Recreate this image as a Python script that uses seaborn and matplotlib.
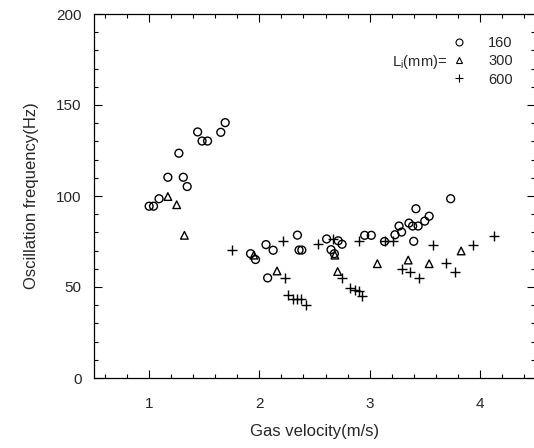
import numpy as np
import pandas as pd
import matplotlib
matplotlib.use("Agg")
import matplotlib.pyplot as plt
import seaborn as sns
from matplotlib.ticker import MultipleLocator
from matplotlib.lines import Line2D

# L_i = 160 mm (circles)
v160 = [1.00, 1.04, 1.09, 1.17, 1.27, 1.31, 1.345, 1.44, 1.48, 1.53, 1.65, 1.69,
        1.92, 1.965, 2.06, 2.125, 2.075, 2.345, 2.36, 2.385, 2.61, 2.715, 2.75,
        2.65, 2.68, 2.955, 3.015, 3.135, 3.23, 3.267, 3.29, 3.357, 3.39, 3.44,
        3.40, 3.42, 3.50, 3.54, 3.735]
f160 = [94.4, 94.4, 98.5, 110.3, 123.5, 110.3, 105.2, 135.2, 130.2, 130.2, 135.0, 140.3,
        68.3, 65.1, 73.3, 70.2, 55.0, 78.5, 70.3, 70.3, 76.4, 75.4, 73.5,
        70.5, 68.3, 78.4, 78.4, 75.0, 78.7, 83.5, 80.2, 85.1, 83.5, 83.5,
        75.1, 93.0, 86.2, 88.9, 98.5]

# L_i = 300 mm (triangles)
v300 = [1.17, 1.25, 1.32, 1.95, 2.16, 2.685, 2.71, 3.07, 3.35, 3.54, 3.83]
f300 = [99.7, 95.2, 78.4, 67.5, 58.8, 67.5, 58.5, 62.8, 64.8, 62.8, 69.8]

# L_i = 600 mm (pluses)
v600 = [1.75, 2.21, 2.23, 2.26, 2.305, 2.34, 2.375, 2.42, 2.53, 2.67, 2.745,
        2.825, 2.865, 2.90, 2.935, 2.90, 3.135, 3.215, 3.295, 3.37, 3.45,
        3.575, 3.695, 3.775, 3.94, 4.13]
f600 = [70.4, 75.0, 55.0, 45.5, 43.3, 43.3, 43.3, 40.0, 73.6, 76.3, 55.1,
        49.7, 48.4, 47.8, 45.1, 75.1, 75.0, 75.1, 60.1, 58.0, 55.0,
        73.0, 63.2, 58.2, 73.1, 78.1]

series_labels = ["160", "300", "600"]
x_ticks = [1, 2, 3, 4]
y_ticks = [0, 50, 100, 150, 200]

df = pd.concat([
    pd.DataFrame({"v": v160, "f": f160, "L": "160"}),
    pd.DataFrame({"v": v300, "f": f300, "L": "300"}),
    pd.DataFrame({"v": v600, "f": f600, "L": "600"}),
], ignore_index=True)

sns.set_style("ticks")
plt.rcParams["font.family"] = ["Liberation Sans", "DejaVu Sans"]
plt.rcParams["mathtext.fontset"] = "custom"
plt.rcParams["mathtext.rm"] = "Liberation Sans"
plt.rcParams["mathtext.it"] = "Liberation Sans:italic"

fig = plt.figure(figsize=(5.34, 4.48), dpi=100)
ax = fig.add_axes([94 / 534, 70 / 448, (535 - 94) / 534, (378 - 14) / 448])

styles = {"160": ("o", 32), "300": ("^", 30), "600": ("+", 44)}
for lab in series_labels:
    d = df[df["L"] == lab]
    mk, s = styles[lab]
    if mk == "+":
        sns.scatterplot(data=d, x="v", y="f", marker=mk, color="black", s=s,
                        linewidth=1.0, ax=ax, legend=False)
    else:
        sns.scatterplot(data=d, x="v", y="f", marker=mk, facecolor="none",
                        edgecolor="black", s=s, linewidth=1.0, ax=ax, legend=False)

ax.set_xlim(0.5, 4.5)
ax.set_ylim(0, 200)
ax.set_xticks(x_ticks)
ax.set_yticks(y_ticks)
ax.xaxis.set_minor_locator(MultipleLocator(0.2))
ax.yaxis.set_minor_locator(MultipleLocator(10))
ax.tick_params(which="both", direction="in", top=True, right=True, width=0.8,
               color="black")
ax.tick_params(which="major", length=6, labelsize=11)
ax.tick_params(which="minor", length=3)
ax.tick_params(axis="x", which="major", pad=14)
ax.tick_params(axis="y", which="major", pad=9)
for sp in ax.spines.values():
    sp.set_linewidth(0.9)
    sp.set_color("black")

ax.set_xlabel("Gas velocity(m/s)", fontsize=12, labelpad=9)
ax.set_ylabel("Oscillation frequency(Hz)", fontsize=12, labelpad=12)

handles = [
    Line2D([], [], ls="", marker="o", mfc="none", mec="black", ms=5, mew=0.8),
    Line2D([], [], ls="", marker="^", mfc="none", mec="black", ms=5, mew=0.8),
    Line2D([], [], ls="", marker="+", color="black", ms=6, mew=0.8),
]
ax.legend(handles, series_labels, loc="upper left", bbox_to_anchor=(0.811, 0.94),
          frameon=False, fontsize=10.5, handlelength=1.0, handletextpad=1.5,
          labelspacing=0.3, borderpad=0, borderaxespad=0)
ax.text(0.80, 0.868, r"L$_{\rm i}$(mm)=", transform=ax.transAxes, ha="right",
        va="center", fontsize=10.5)

fig.savefig("out.png", dpi=100)
